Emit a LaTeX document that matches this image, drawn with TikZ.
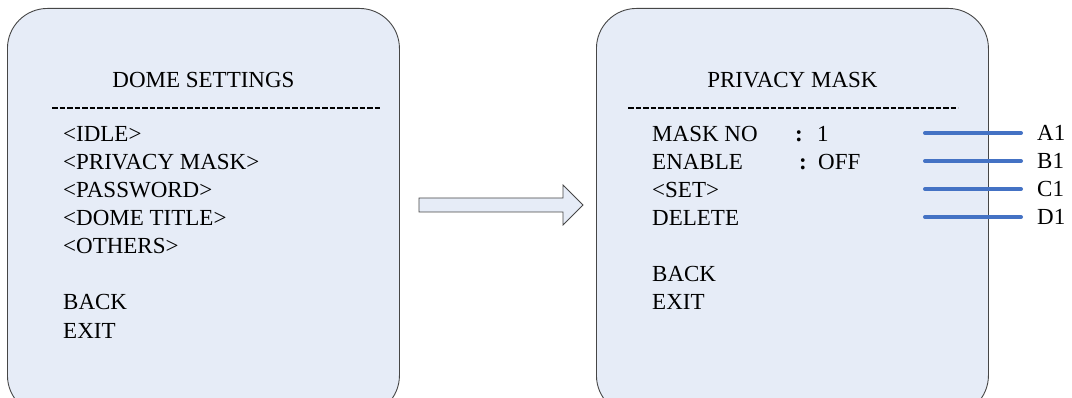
\documentclass[tikz,border=0pt]{standalone}
\usepackage{fontspec}
\setmainfont{Liberation Serif}
\usepackage{tikz}
\usetikzlibrary{positioning}
\definecolor{panel}{RGB}{230,236,247}
\definecolor{edge}{RGB}{70,70,70}
\definecolor{tagblue}{RGB}{68,114,196}
\tikzset{
	screen/.style={draw=edge, line width=0.9pt, fill=panel, rounded corners=40pt, minimum width=392pt, minimum height=407pt, inner sep=0pt}, % one menu screen
	item/.style={inner sep=0pt, anchor=base west, font=\fontsize{23}{27}\selectfont}, % menu line
	heading/.style={item, anchor=base},
	dashrule/.style={draw=black, dash pattern=on 5.5pt off 2pt, line width=1.3pt},
	pointer/.style={draw=tagblue, line width=4pt, line cap=round},
}
\begin{document}
\begin{tikzpicture}[x=1pt,y=-1pt]
		\useasboundingbox (0,0) rectangle (1072,398);

		\node[screen, anchor=north west](dome) at (7,8) {};
		\node[screen, anchor=north west](mask) at (596,8) {};

		\node[heading](domehead) at ([yshift=-80pt]dome.north) {DOME SETTINGS};
		\node[heading](maskhead) at ([yshift=-80pt]mask.north) {PRIVACY MASK};
		\draw[dashrule] (52,108) -- (380,108);
		\draw[dashrule] (628,108) -- (958,108);

		\foreach \txt/\row in {<IDLE>/0, <PRIVACY MASK>/1, <PASSWORD>/2, <DOME TITLE>/3, <OTHERS>/4, BACK/6, EXIT/7}
		{
			\node[item](d\row) at (63,{142+28*\row}) {\txt};
		}

		\foreach \txt/\row in {MASK NO/0, ENABLE/1, <SET>/2, DELETE/3, BACK/5, EXIT/6}
		{
			\node[item](m\row) at (652,{142+28*\row}) {\txt};
		}
		\node[item](nocolon) at (795,142) {\textbf{:}};
		\node[item](noval) at (817,142) {1};
		\node[item](encolon) at (799,170) {\textbf{:}};
		\node[item](enval) at (818,170) {OFF};

		\foreach \lab/\y in {A1/133, B1/161, C1/189, D1/217}
		{
			\coordinate (p\lab) at (925,\y);
			\node[item, anchor=west](\lab) at (1037,\y) {\lab};
			\draw[pointer, shorten >=16pt] (p\lab) -- (\lab.west);
		}

		% block arrow between the screens
		\draw[edge, line width=0.8pt, fill=panel] (419,198) -- (563,198) -- (563,185) -- (583,205) -- (563,225) -- (563,212) -- (419,212) -- cycle;

	\end{tikzpicture}
\end{document}
